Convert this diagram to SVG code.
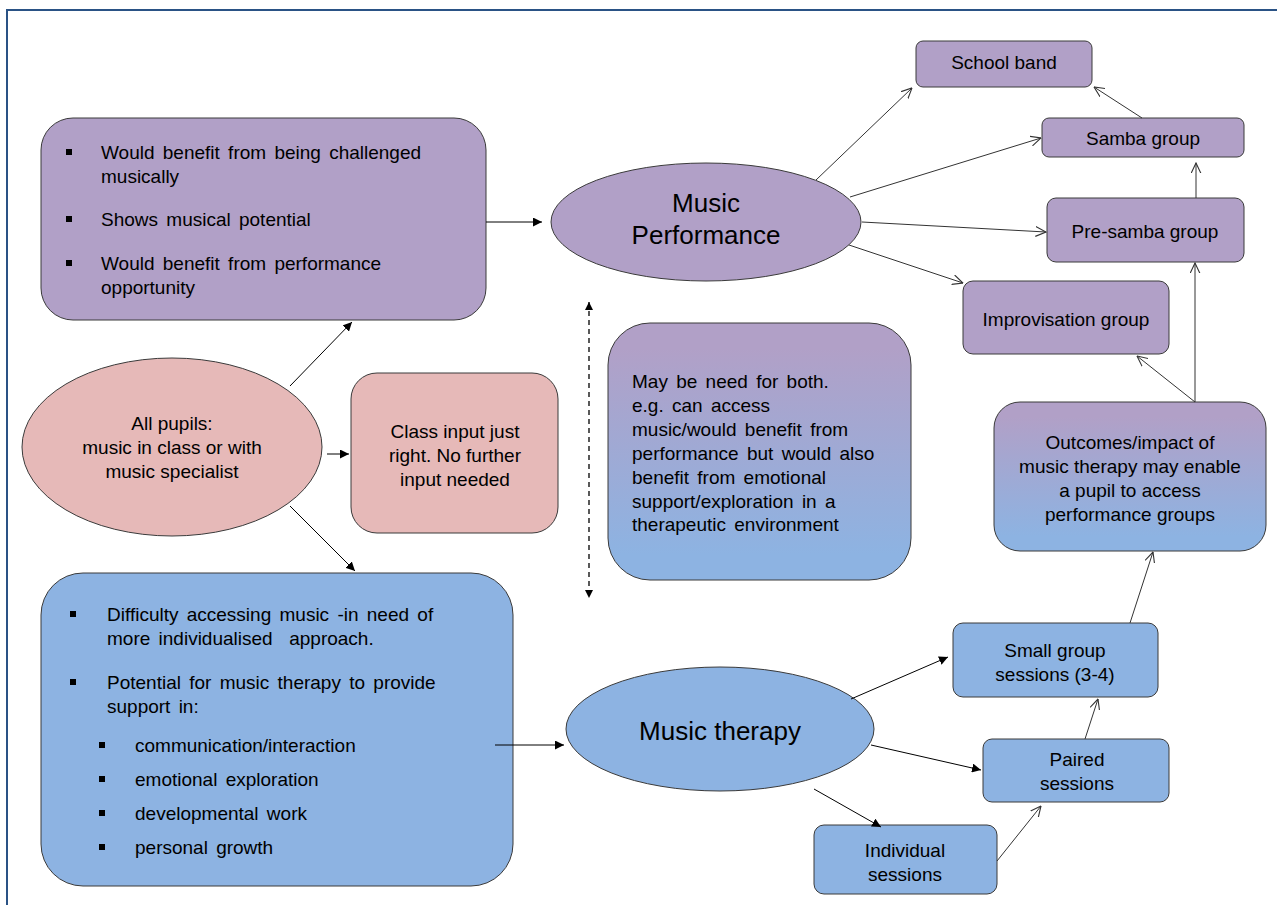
<svg xmlns="http://www.w3.org/2000/svg" width="1277" height="905" viewBox="0 0 1277 905">
<style>
text{font-family:"Liberation Sans",Arial,sans-serif;font-size:19px;fill:#000}
.c{text-anchor:middle}
.w{word-spacing:3px}
.big{font-size:26px}
.pur{fill:#B1A0C7;stroke:#3a3a3a;stroke-width:1}
.pink{fill:#E6B9B8;stroke:#3a3a3a;stroke-width:1}
.blue{fill:#8DB3E2;stroke:#3a3a3a;stroke-width:1}
.grad1{fill:url(#g1);stroke:#3a3a3a;stroke-width:1}
.grad2{fill:url(#g2);stroke:#3a3a3a;stroke-width:1}
.f{stroke:#000;stroke-width:1;fill:none;marker-end:url(#af)}
.o{stroke:#333;stroke-width:1;fill:none;marker-end:url(#ao)}
.b{fill:#000}
</style>
<defs>
<linearGradient id="g1" x1="0" y1="0" x2="0" y2="1">
<stop offset="0.1" stop-color="#B1A0C7"/><stop offset="0.9" stop-color="#8DB3E2"/>
</linearGradient>
<linearGradient id="g2" x1="0" y1="0" x2="0" y2="1">
<stop offset="0.1" stop-color="#B1A0C7"/><stop offset="0.9" stop-color="#8DB3E2"/>
</linearGradient>
<marker id="af" viewBox="0 0 10 10" refX="10" refY="5" markerWidth="9" markerHeight="9" markerUnits="userSpaceOnUse" orient="auto">
<path d="M0,0 L10,5 L0,10 z" fill="#000"/>
</marker>
<marker id="ao" viewBox="0 0 10 10" refX="9.5" refY="5" markerWidth="11" markerHeight="11" markerUnits="userSpaceOnUse" orient="auto">
<path d="M0,0.5 L9.5,5 L0,9.5" fill="none" stroke="#333" stroke-width="1"/>
</marker>
<marker id="afs" viewBox="0 0 10 10" refX="10" refY="5" markerWidth="8" markerHeight="8" markerUnits="userSpaceOnUse" orient="auto">
<path d="M0,0 L10,5 L0,10 z" fill="#000"/>
</marker>
<marker id="afb" viewBox="0 0 10 10" refX="0" refY="5" markerWidth="8" markerHeight="8" markerUnits="userSpaceOnUse" orient="auto">
<path d="M10,0 L0,5 L10,10 z" fill="#000"/>
</marker>
</defs>
<rect x="0" y="0" width="1277" height="905" fill="#fff"/>
<rect x="7" y="10" width="1300" height="1000" fill="none" stroke="#2A5285" stroke-width="2"/>

<g id="perf-criteria">
<rect class="pur" x="41" y="118" width="445" height="202" rx="32"/>
<rect class="b" x="66" y="149" width="6" height="6"/>
<rect class="b" x="66" y="216" width="6" height="6"/>
<rect class="b" x="66" y="260" width="6" height="6"/>
<text class="w" x="101" y="159">Would benefit from being challenged</text>
<text class="w" x="101" y="183">musically</text>
<text class="w" x="101" y="226">Shows musical potential</text>
<text class="w" x="101" y="270">Would benefit from performance</text>
<text class="w" x="101" y="294">opportunity</text>
</g>

<g id="music-performance">
<ellipse class="pur" cx="706" cy="222" rx="155" ry="59"/>
<text class="c big" x="706" y="212">Music</text>
<text class="c big" x="706" y="244">Performance</text>
</g>

<g id="school-band">
<rect class="pur" x="916" y="41" width="176" height="46" rx="7"/>
<text class="c" x="1004" y="69">School band</text>
</g>
<g id="samba">
<rect class="pur" x="1042" y="118" width="202" height="39" rx="7"/>
<text class="c" x="1143" y="145">Samba group</text>
</g>
<g id="pre-samba">
<rect class="pur" x="1047" y="198" width="197" height="64" rx="9"/>
<text class="c" x="1145" y="238">Pre-samba group</text>
</g>
<g id="improvisation">
<rect class="pur" x="963" y="281" width="206" height="73" rx="10"/>
<text class="c" x="1066" y="326">Improvisation group</text>
</g>

<g id="all-pupils">
<ellipse class="pink" cx="172" cy="447" rx="150" ry="89"/>
<text class="c" x="172" y="430">All pupils:</text>
<text class="c" x="172" y="454">music in class or with</text>
<text class="c" x="172" y="478">music specialist</text>
</g>

<g id="class-input">
<rect class="pink" x="351" y="373" width="207" height="160" rx="26"/>
<text class="c" x="455" y="438">Class input just</text>
<text class="c" x="455" y="462">right. No further</text>
<text class="c" x="455" y="486">input needed</text>
</g>

<g id="both">
<rect class="grad1" x="608" y="323" width="303" height="257" rx="42"/>
<text class="w" x="632" y="388">May be need for both.</text>
<text class="w" x="632" y="412">e.g. can access</text>
<text class="w" x="632" y="436">music/would benefit from</text>
<text class="w" x="632" y="460">performance but would also</text>
<text class="w" x="632" y="484">benefit from emotional</text>
<text class="w" x="632" y="508">support/exploration in a</text>
<text class="w" x="632" y="531">therapeutic environment</text>
</g>

<g id="outcomes">
<rect class="grad2" x="994" y="402" width="272" height="149" rx="26"/>
<text class="c" x="1130" y="449">Outcomes/impact of</text>
<text class="c" x="1130" y="473">music therapy may enable</text>
<text class="c" x="1130" y="497">a pupil to access</text>
<text class="c" x="1130" y="521">performance groups</text>
</g>

<g id="therapy-criteria">
<rect class="blue" x="41" y="573" width="472" height="313" rx="42"/>
<rect class="b" x="70" y="611" width="6" height="6"/>
<rect class="b" x="70" y="679" width="6" height="6"/>
<rect class="b" x="99" y="742" width="6" height="6"/>
<rect class="b" x="99" y="776" width="6" height="6"/>
<rect class="b" x="99" y="810" width="6" height="6"/>
<rect class="b" x="99" y="844" width="6" height="6"/>
<text class="w" x="107" y="621">Difficulty accessing music -in need of</text>
<text class="w" x="107" y="645" xml:space="preserve">more individualised  approach.</text>
<text class="w" x="107" y="689">Potential for music therapy to provide</text>
<text class="w" x="107" y="713">support in:</text>
<text class="w" x="135" y="752">communication/interaction</text>
<text class="w" x="135" y="786">emotional exploration</text>
<text class="w" x="135" y="820">developmental work</text>
<text class="w" x="135" y="854">personal growth</text>
</g>

<g id="music-therapy">
<ellipse class="blue" cx="720" cy="729" rx="154" ry="62"/>
<text class="c big" x="720" y="740">Music therapy</text>
</g>

<g id="small-group">
<rect class="blue" x="953" y="623" width="205" height="74" rx="10"/>
<text class="c" x="1055" y="657">Small group</text>
<text class="c" x="1055" y="681">sessions (3-4)</text>
</g>
<g id="paired">
<rect class="blue" x="983" y="739" width="186" height="63" rx="9"/>
<text class="c" x="1077" y="766">Paired</text>
<text class="c" x="1077" y="790">sessions</text>
</g>
<g id="individual">
<rect class="blue" x="814" y="825" width="183" height="69" rx="10"/>
<text class="c" x="905" y="857">Individual</text>
<text class="c" x="905" y="881">sessions</text>
</g>

<g id="connectors">
<line class="f" x1="486" y1="222" x2="542" y2="222"/>
<line class="f" x1="290" y1="386" x2="352" y2="322"/>
<line class="f" x1="327" y1="454" x2="349" y2="454"/>
<line class="f" x1="290" y1="506" x2="355" y2="571"/>
<line class="f" x1="495" y1="745" x2="564" y2="745"/>
<line class="f" x1="851" y1="699" x2="948" y2="657"/>
<line class="f" x1="871" y1="745" x2="981" y2="770"/>
<line class="f" x1="814" y1="789" x2="881" y2="827"/>
<line x1="589" y1="302" x2="589" y2="598" stroke="#000" stroke-width="1.3" stroke-dasharray="5,4" marker-start="url(#afb)" marker-end="url(#afs)"/>
<line class="o" x1="816" y1="180" x2="912" y2="88"/>
<line class="o" x1="850" y1="197" x2="1041" y2="138"/>
<line class="o" x1="862" y1="222" x2="1046" y2="232"/>
<line class="o" x1="849" y1="245" x2="963" y2="283"/>
<line class="o" x1="1142" y1="118" x2="1094" y2="87"/>
<line class="o" x1="1196" y1="198" x2="1196" y2="163"/>
<line class="o" x1="1195" y1="402" x2="1195" y2="263"/>
<line class="o" x1="1195" y1="402" x2="1137" y2="356"/>
<line class="o" x1="1130" y1="623" x2="1153" y2="552"/>
<line class="o" x1="1085" y1="739" x2="1098" y2="699"/>
<line class="o" x1="997" y1="861" x2="1041" y2="806"/>
</g>
</svg>
